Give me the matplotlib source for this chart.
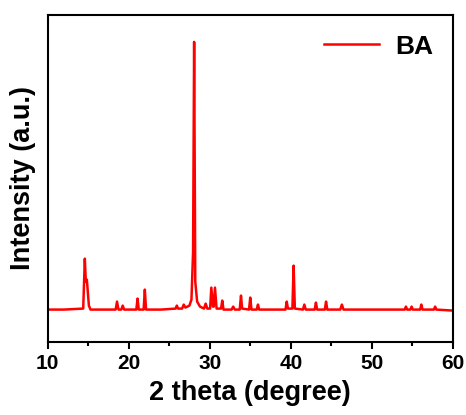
import matplotlib
matplotlib.use("Agg")
import matplotlib.pyplot as plt
from matplotlib.ticker import MultipleLocator

plt.rcParams['font.family'] = ['Liberation Sans', 'DejaVu Sans']
plt.rcParams['font.weight'] = 'bold'

# XRD trace of BA (2 theta, intensity a.u.)
two_theta = [10.0, 12.0, 14.4, 14.6, 14.72, 14.85, 15.1, 15.3, 16.5,
             18.4, 18.57, 18.75, 19.1, 19.27, 19.45, 20.95, 21.1, 21.25,
             21.85, 22.0, 22.15, 24.0, 25.8, 25.95, 26.1, 26.6, 26.8, 27.0,
             27.5, 27.75, 27.95, 28.08, 28.22, 28.45, 28.8, 29.3, 29.5, 29.7,
             30.05, 30.2, 30.4, 30.5, 30.65, 30.85, 31.4, 31.55, 31.7, 32.7,
             32.9, 33.1, 33.7, 33.86, 34.0, 34.85, 35.0, 35.15, 35.8, 35.95,
             36.1, 38.0, 39.35, 39.5, 39.65, 40.2, 40.35, 40.5, 41.5, 41.67,
             41.85, 42.95, 43.1, 43.25, 44.2, 44.35, 44.5, 46.1, 46.3, 46.5,
             50.0, 54.05, 54.2, 54.35, 54.75, 54.9, 55.05, 55.95, 56.1, 56.25,
             57.65, 57.8, 57.95, 60.0]
intensity = [32, 32, 33, 83, 60, 62, 36, 32, 32,
             32, 40, 32, 32, 36, 32, 32, 43, 32,
             32, 52, 32, 32, 33, 36, 33, 33, 37, 34,
             36, 42, 90, 300, 60, 40, 35, 33, 38, 33,
             33, 54, 35, 35, 54, 33, 33, 41, 32, 32,
             35, 32, 32, 46, 33, 32, 44, 32, 32, 37,
             32, 32, 32, 40, 33, 33, 76, 33, 32, 37,
             32, 32, 39, 32, 32, 40, 32, 32, 37, 32,
             32, 32, 35, 32, 32, 35, 32, 32, 37, 32,
             32, 35, 32, 31]

fig = plt.figure(figsize=(4.66, 4.15), dpi=100)
ax = fig.add_axes([0.102, 0.177, 0.870, 0.787])
ax.plot(two_theta, intensity, color='#ff0000', lw=1.8, label='BA')

ax.set_xlim(10, 60)
ax.set_ylim(0, 327)
ax.xaxis.set_major_locator(MultipleLocator(10))
ax.xaxis.set_minor_locator(MultipleLocator(5))
ax.set_yticks([])
ax.tick_params(axis='x', which='major', direction='out', length=5, width=1.5,
               labelsize=15, pad=4)
ax.tick_params(axis='x', which='minor', direction='out', length=3, width=1.5)
for lab in ax.get_xticklabels():
    lab.set_fontweight('bold')
for sp in ax.spines.values():
    sp.set_linewidth(1.5)

ax.set_xlabel('2 theta (degree)', fontsize=19.5, fontweight='bold', labelpad=5)
ax.set_ylabel('Intensity (a.u.)', fontsize=19.5, fontweight='bold', labelpad=8)

leg = ax.legend(loc='upper right', frameon=False, fontsize=19,
                handlelength=2.1, handletextpad=0.6, borderaxespad=0.35)
for t in leg.get_texts():
    t.set_fontweight('bold')

fig.savefig('out.png', dpi=100)
